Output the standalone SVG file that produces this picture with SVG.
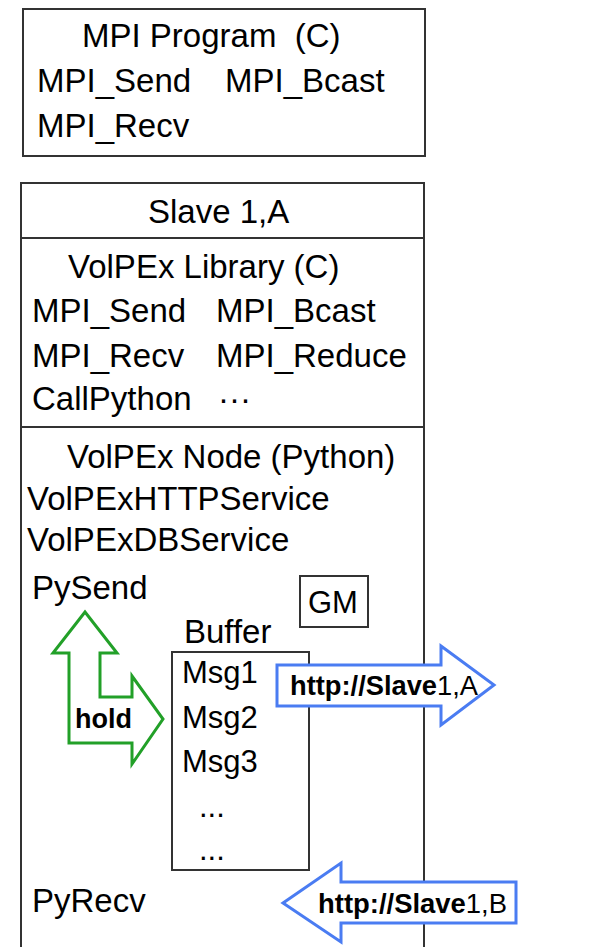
<svg xmlns="http://www.w3.org/2000/svg" width="589" height="947" viewBox="0 0 589 947">
<style>
.box{fill:none;stroke:#333;stroke-width:2}
.t{font-family:"Liberation Sans",Arial,sans-serif;font-size:33px;fill:#000}
.m{font-family:"Liberation Sans",Arial,sans-serif;font-size:31px;fill:#000}
.b{font-family:"Liberation Sans",Arial,sans-serif;font-size:27px;font-weight:bold;fill:#000}
.n{font-weight:normal}
.green{fill:#fff;stroke:#22a028;stroke-width:3;stroke-linejoin:miter}
.blue{fill:#fff;stroke:#4a7cf2;stroke-width:3;stroke-linejoin:miter}
</style>
<rect width="589" height="947" fill="#fff"/>
<g id="mpi-program">
<rect class="box" x="23" y="9" width="402" height="147"/>
<text class="t" x="82" y="47" xml:space="preserve" style="white-space:pre">MPI Program  (C)</text>
<text class="t" x="37" y="92">MPI_Send</text>
<text class="t" x="225" y="92">MPI_Bcast</text>
<text class="t" x="37" y="137">MPI_Recv</text>
</g>
<g id="slave">
<rect class="box" x="21" y="183" width="403" height="790"/>
<line class="box" x1="21" y1="238" x2="424" y2="238"/>
<line class="box" x1="21" y1="427" x2="424" y2="427"/>
<text class="t" x="148" y="223" font-size="32">Slave 1,A</text>
</g>
<g id="library">
<text class="t" x="68" y="278">VolPEx Library (C)</text>
<text class="t" x="32" y="322">MPI_Send</text>
<text class="t" x="216" y="322">MPI_Bcast</text>
<text class="t" x="32" y="367">MPI_Recv</text>
<text class="t" x="216" y="367">MPI_Reduce</text>
<text class="t" x="32" y="410">CallPython</text>
<text class="t" x="218" y="410">···</text>
</g>
<g id="node">
<text class="t" x="67" y="468" font-size="32">VolPEx Node (Python)</text>
<text class="t" x="27" y="510" font-size="32">VolPExHTTPService</text>
<text class="t" x="27" y="551" font-size="32">VolPExDBService</text>
<text class="t" x="32" y="599">PySend</text>
<text class="t" x="32" y="912">PyRecv</text>
</g>
<g id="gm">
<rect class="box" x="300" y="576" width="68" height="51"/>
<text class="m" x="308" y="613">GM</text>
</g>
<g id="buffer">
<text class="t" x="184" y="643" font-size="32">Buffer</text>
<rect class="box" x="172" y="652" width="137" height="218"/>
<text class="m" x="182" y="683">Msg1</text>
<text class="m" x="182" y="728">Msg2</text>
<text class="m" x="182" y="772">Msg3</text>
<text class="m" x="199" y="817">...</text>
<text class="m" x="199" y="860">...</text>
</g>
<g id="connectors">
<path class="green" d="M85,612 L117,653 L100,653 L100,697 L132,697 L132,676 L163,719 L132,764 L132,743 L69,743 L69,653 L53,653 Z"/>
<text class="b" x="75" y="728">hold</text>
<path class="blue" d="M277,665 L441,665 L441,646 L494,685 L441,725 L441,706 L277,706 Z"/>
<text class="b" x="290" y="695" textLength="188" lengthAdjust="spacingAndGlyphs">http://Slave<tspan class="n">1,A</tspan></text>
<path class="blue" d="M283,903 L341,863 L341,882 L516,882 L516,923 L341,923 L341,942 Z"/>
<text class="b" x="318" y="913" textLength="189" lengthAdjust="spacingAndGlyphs">http://Slave<tspan class="n">1,B</tspan></text>
</g>
</svg>
